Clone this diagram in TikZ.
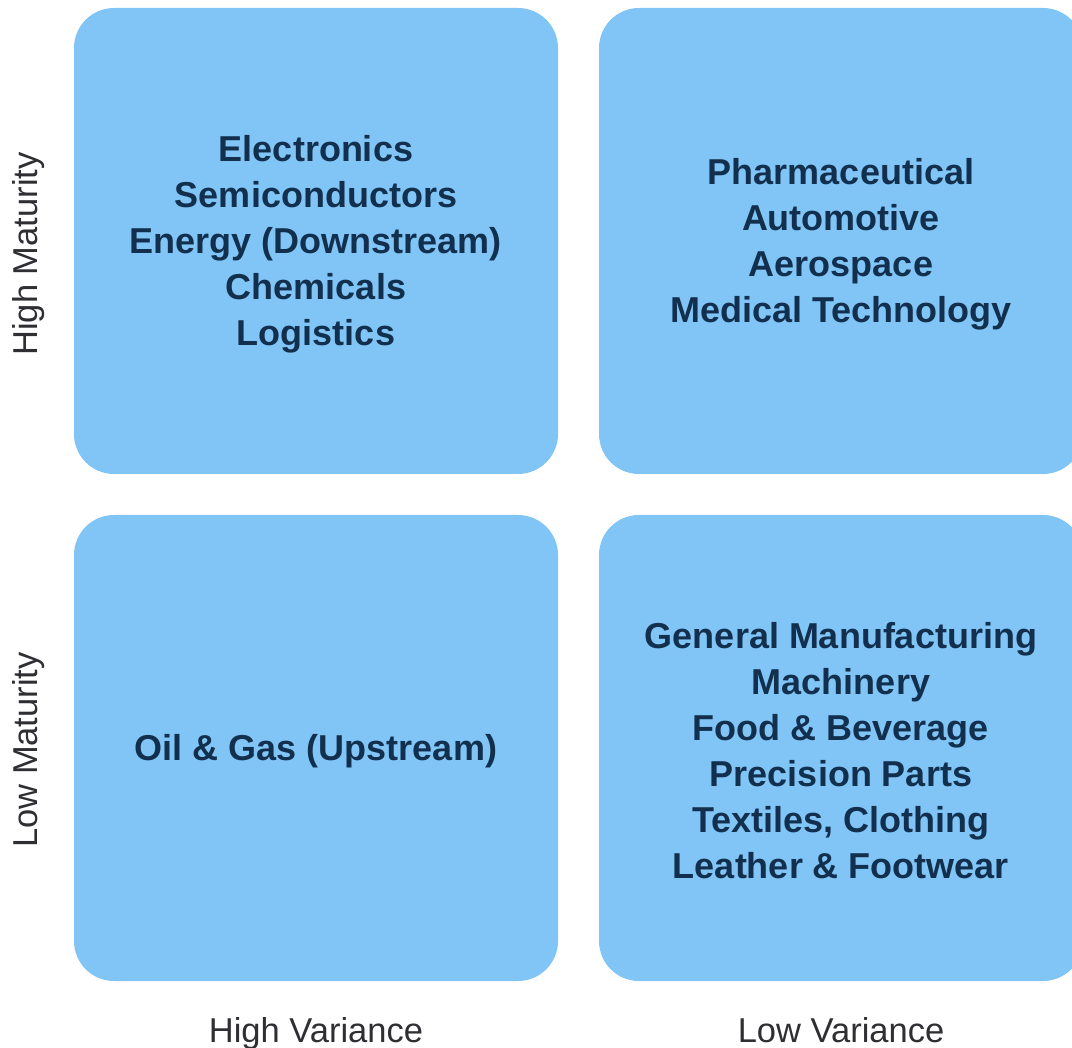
\documentclass[tikz,border=0pt]{standalone}
\usepackage{fontspec}
\setmainfont{Liberation Sans}
\definecolor{cellblue}{HTML}{81C5F7}
\definecolor{cellink}{HTML}{12304E}
\definecolor{axisink}{HTML}{2E2E33}
\tikzset{
  cell/.style={fill=cellblue, rounded corners=40pt, draw=none},
  celltext/.style={align=center, text=cellink, yshift=-3pt, font=\fontsize{36}{46}\selectfont\bfseries},
  axislabel/.style={text=axisink, anchor=base, font=\fontsize{34.5}{40}\selectfont}
}
\begin{document}
\begin{tikzpicture}[x=1pt,y=-1pt]
\useasboundingbox (0,0) rectangle (1072,1048);
\clip (0,0) rectangle (1072,1048);

%Cells
\node (hv-hm) [cell, minimum width=484pt, minimum height=466pt] at (316,241) {};
\node (lv-hm) [cell, minimum width=484pt, minimum height=466pt] at (841,241) {};
\node (hv-lm) [cell, minimum width=484pt, minimum height=466pt] at (316,748) {};
\node (lv-lm) [cell, minimum width=484pt, minimum height=466pt] at (841,748) {};

%Industries
\node [celltext] at (hv-hm.center) {Electronics\\Semiconductors\\Energy (Downstream)\\Chemicals\\Logistics};
\node [celltext] at (lv-hm.center) {Pharmaceutical\\Automotive\\Aerospace\\Medical Technology};
\node [celltext] at (hv-lm.center) {Oil \& Gas (Upstream)};
\node [celltext] at (lv-lm.center) {General Manufacturing\\Machinery\\Food \& Beverage\\Precision Parts\\Textiles, Clothing\\Leather \& Footwear};

%Axes
\node (hm) [axislabel, rotate=90] at (37,254) {High Maturity};
\node (lm) [axislabel, rotate=90] at (37,750) {Low Maturity};
\node (hv) [axislabel] at (hv-lm.center |- 0,1042) {High Variance};
\node (lv) [axislabel] at (lv-lm.center |- 0,1042) {Low Variance};
\end{tikzpicture}
\end{document}
